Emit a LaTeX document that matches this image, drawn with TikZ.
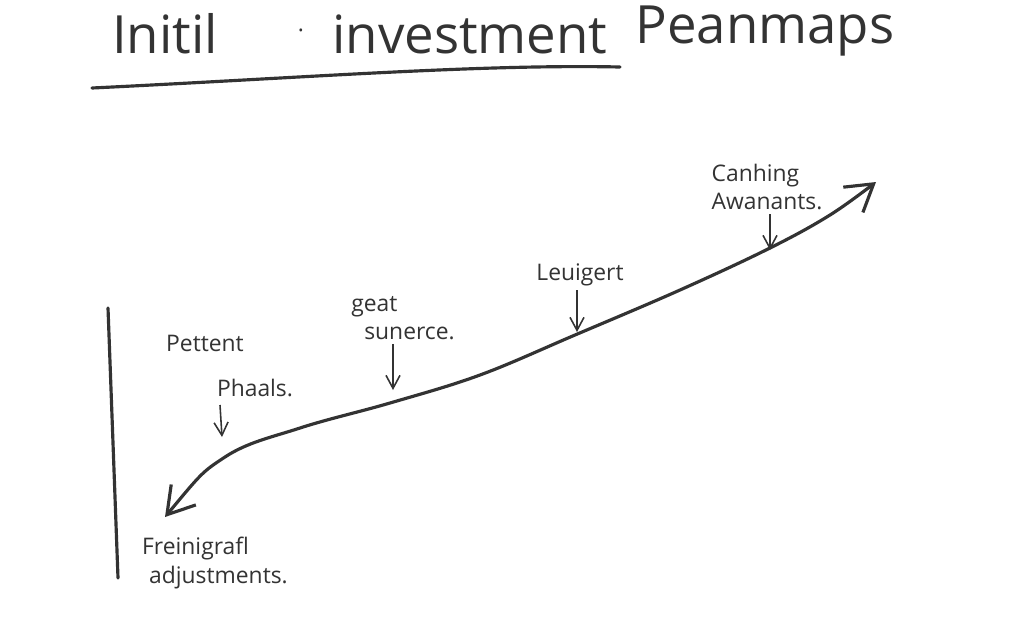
\documentclass[tikz,border=0pt]{standalone}
\usepackage{fontspec}
\setmainfont{Open Sans}
\usepackage{tikz}
\usetikzlibrary{arrows.meta}
\usetikzlibrary{positioning}
\definecolor{pencil}{HTML}{333333}

\begin{document}
\begin{tikzpicture}[x=0.1mm, y=-0.1mm,
                pencil, text=pencil,
                ttl/.style={font=\fontsize{15}{18}\selectfont, inner sep=0pt},
                lbl/.style={font=\fontsize{6.5}{8}\selectfont, align=left, inner sep=1pt},
                tick/.style={line width=0.45pt, -{Straight Barb[length=1.3mm, width=1.4mm]}},
                stroke/.style={line width=0.9pt, line cap=round}]
                \useasboundingbox (0,0) rectangle (1024,628);
                \node[ttl](initil) at (165, 34) {Initil};
                \node[lbl](dot) at (301, 34) {\char"00B7};
                \node[ttl](invest) at (470, 34) {investment};
                \node[ttl](peanmaps) at (765, 31) {Peanmaps};
                \draw[stroke] (92, 88) .. controls (300, 78) and (480, 64) .. (620, 67);
                \draw[stroke] (108, 308) -- (118, 578);
                % curve
                \draw[stroke, {Straight Barb[length=2.6mm, width=3.2mm]}-{Straight Barb[length=2.6mm, width=3.2mm]}]
                    plot[smooth, tension=0.6] coordinates {(165, 517) (225, 457) (300, 428) (390, 403)
                    (480, 375) (575, 335) (680, 290) (770, 248) (830, 215) (876, 182)};
                \coordinate (phaalsTip) at (222, 437);
                \coordinate (sunerceTip) at (393, 390);
                \coordinate (leuigertTip) at (577, 332);
                \coordinate (canhingTip) at (770, 250);
                \node[lbl](pettent) at (205, 343) {Pettent};
                \node[lbl](phaals) at (255, 388) {Phaals.};
                \node[lbl](sunerce) at (403, 318) {geat\\ \hspace*{1.3mm}sunerce.};
                \node[lbl](leuigert) at (580, 275) {Leuigert};
                \node[lbl](canhing) at (767, 187) {Canhing\\ Awanants.};
                \node[lbl](freinigrafl) at (215, 563) {Freinigrafl\\ \hspace*{0.7mm}adjustments.};
                \draw[tick] (220, 405) -- (phaalsTip);
                \draw[tick] (sunerce.south -| sunerceTip) -- (sunerceTip);
                \draw[tick] (leuigert.south -| leuigertTip) -- (leuigertTip);
                \draw[tick] (canhing.south -| canhingTip) -- (canhingTip);
            \end{tikzpicture}
\end{document}
